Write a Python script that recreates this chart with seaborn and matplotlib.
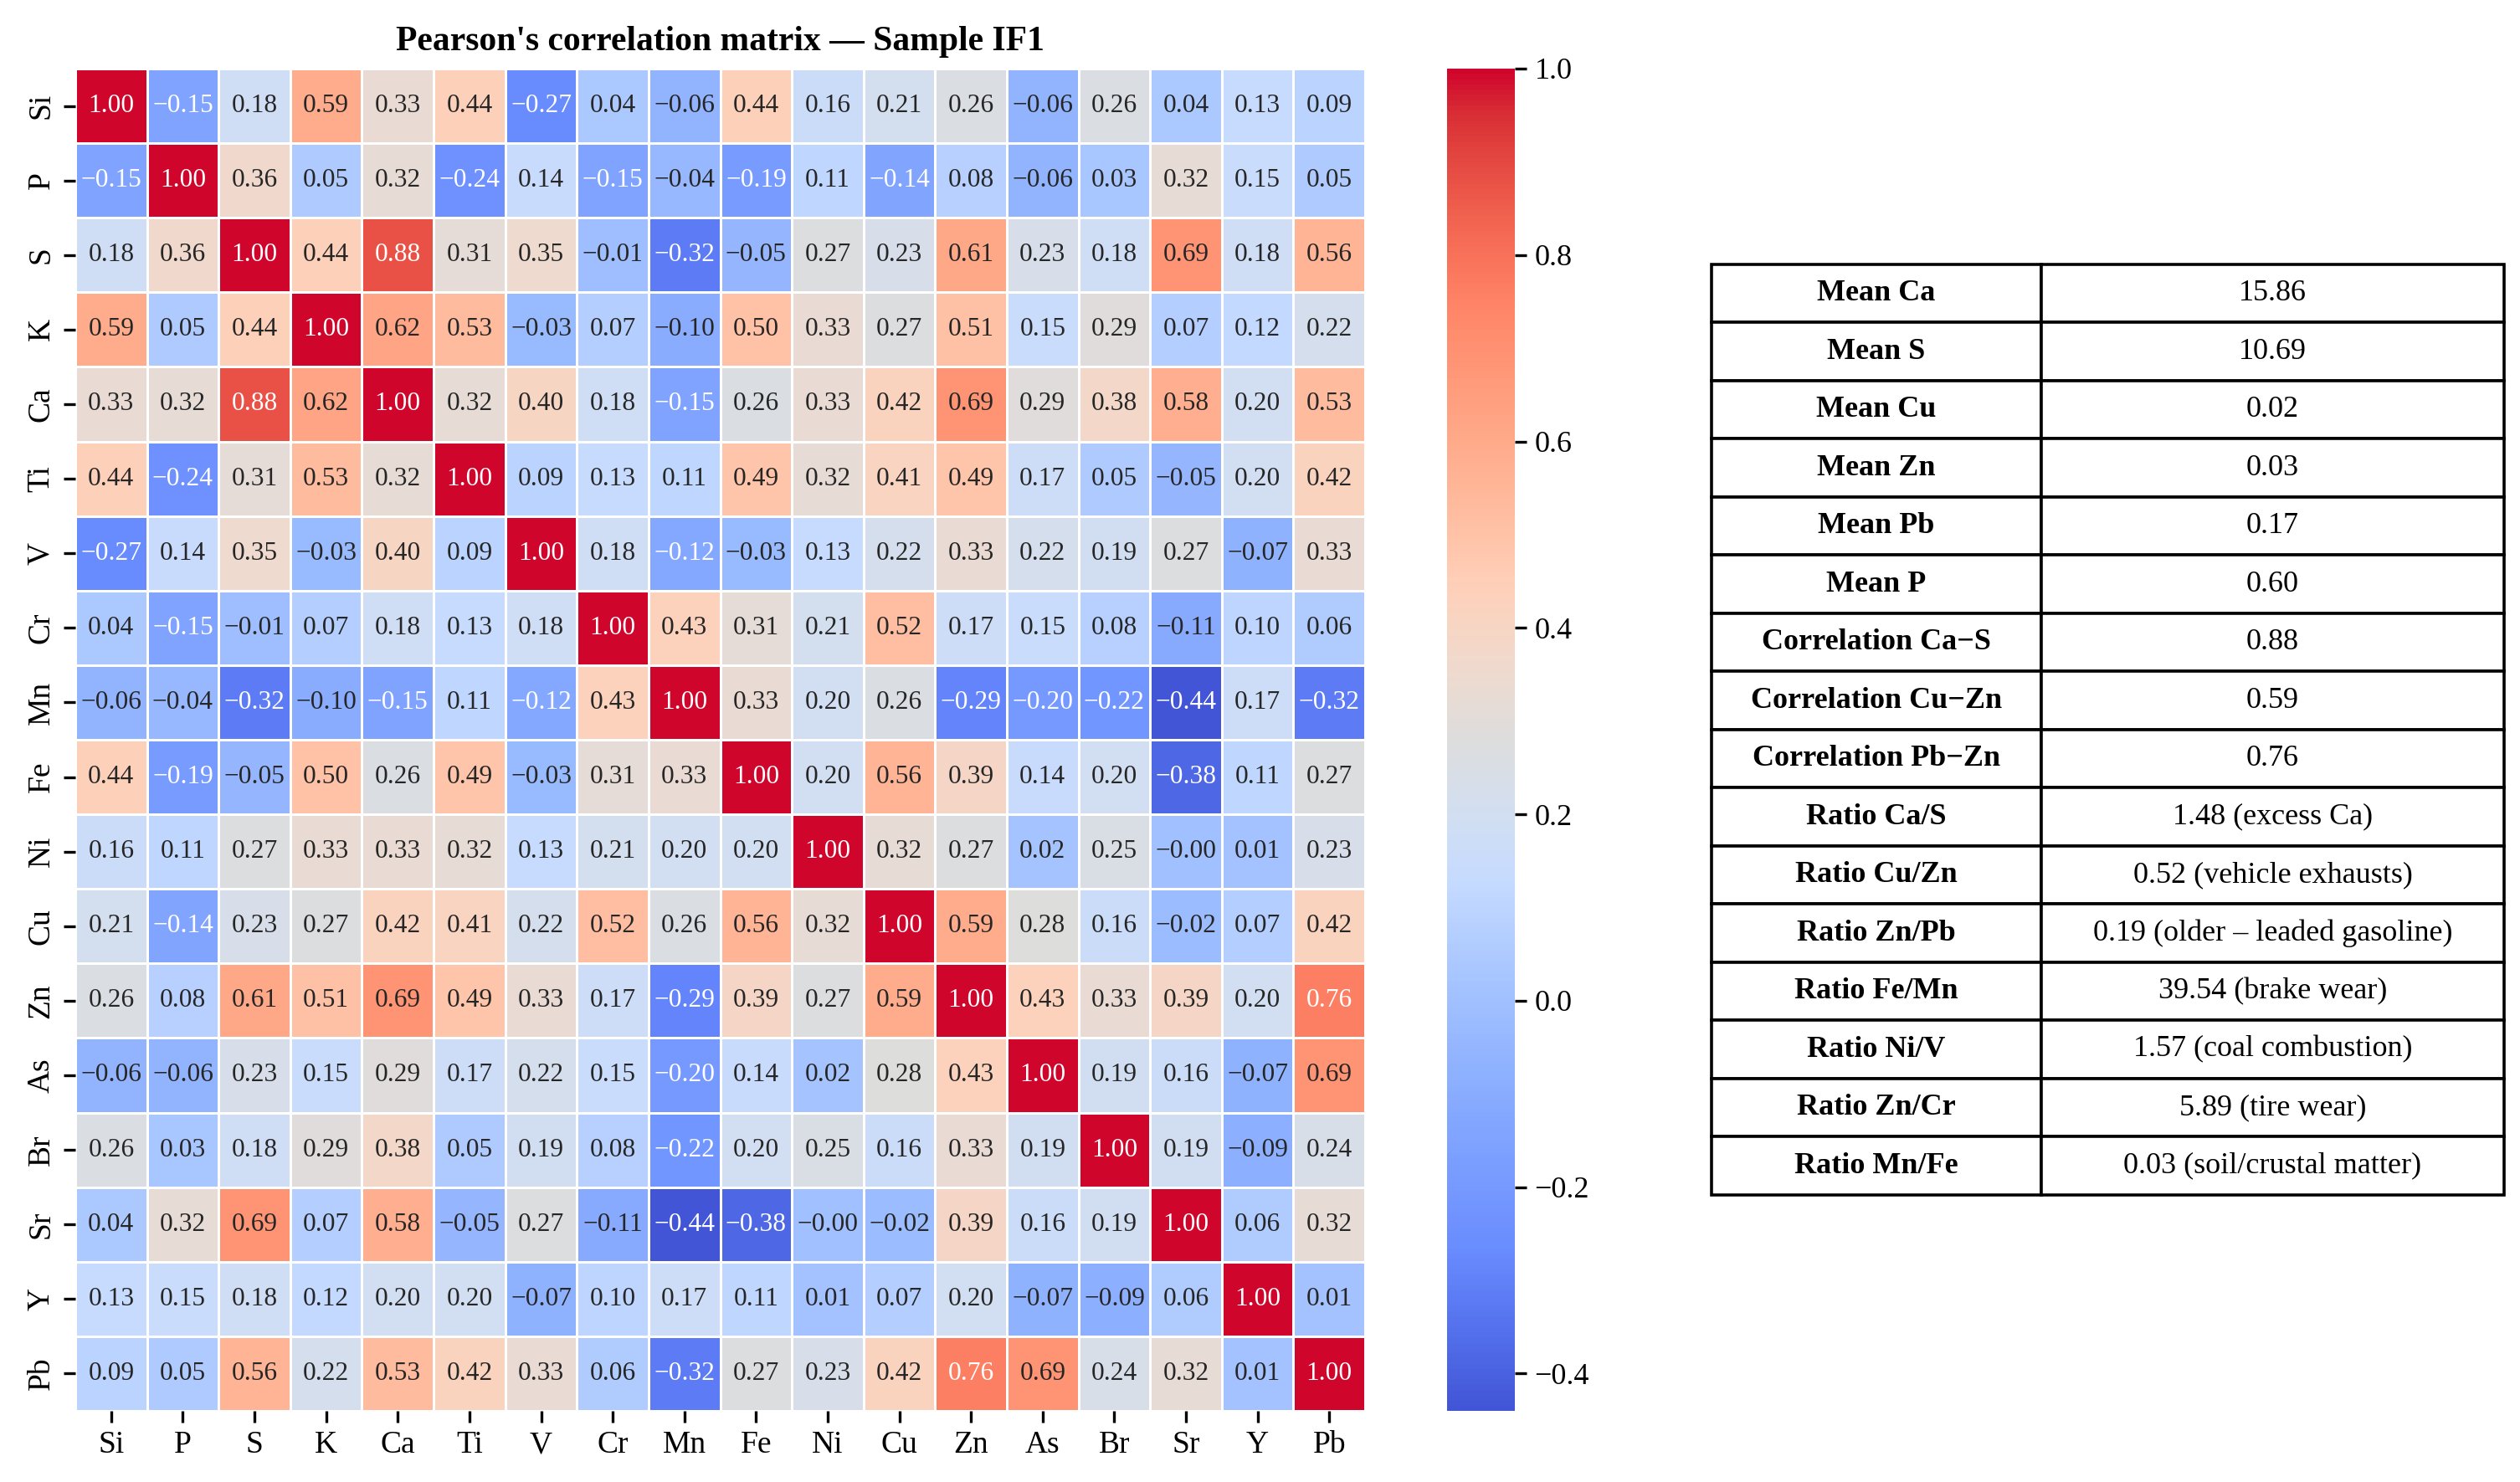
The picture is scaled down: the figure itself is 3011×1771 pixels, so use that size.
import numpy as np
import pandas as pd
import seaborn as sns
import matplotlib.pyplot as plt
from matplotlib.colors import ListedColormap, rgb_to_hsv, hsv_to_rgb

plt.rcParams["font.family"] = ["Liberation Serif", "DejaVu Serif"]

# %% data
elements = ["Si", "P", "S", "K", "Ca", "Ti", "V", "Cr", "Mn",
            "Fe", "Ni", "Cu", "Zn", "As", "Br", "Sr", "Y", "Pb"]

corr_values = [
    [1.00, -0.15, 0.18, 0.59, 0.33, 0.44, -0.27, 0.04, -0.06, 0.44, 0.16, 0.21, 0.26, -0.06, 0.26, 0.04, 0.13, 0.09],
    [-0.15, 1.00, 0.36, 0.05, 0.32, -0.24, 0.14, -0.15, -0.04, -0.19, 0.11, -0.14, 0.08, -0.06, 0.03, 0.32, 0.15, 0.05],
    [0.18, 0.36, 1.00, 0.44, 0.88, 0.31, 0.35, -0.01, -0.32, -0.05, 0.27, 0.23, 0.61, 0.23, 0.18, 0.69, 0.18, 0.56],
    [0.59, 0.05, 0.44, 1.00, 0.62, 0.53, -0.03, 0.07, -0.10, 0.50, 0.33, 0.27, 0.51, 0.15, 0.29, 0.07, 0.12, 0.22],
    [0.33, 0.32, 0.88, 0.62, 1.00, 0.32, 0.40, 0.18, -0.15, 0.26, 0.33, 0.42, 0.69, 0.29, 0.38, 0.58, 0.20, 0.53],
    [0.44, -0.24, 0.31, 0.53, 0.32, 1.00, 0.09, 0.13, 0.11, 0.49, 0.32, 0.41, 0.49, 0.17, 0.05, -0.05, 0.20, 0.42],
    [-0.27, 0.14, 0.35, -0.03, 0.40, 0.09, 1.00, 0.18, -0.12, -0.03, 0.13, 0.22, 0.33, 0.22, 0.19, 0.27, -0.07, 0.33],
    [0.04, -0.15, -0.01, 0.07, 0.18, 0.13, 0.18, 1.00, 0.43, 0.31, 0.21, 0.52, 0.17, 0.15, 0.08, -0.11, 0.10, 0.06],
    [-0.06, -0.04, -0.32, -0.10, -0.15, 0.11, -0.12, 0.43, 1.00, 0.33, 0.20, 0.26, -0.29, -0.20, -0.22, -0.44, 0.17, -0.32],
    [0.44, -0.19, -0.05, 0.50, 0.26, 0.49, -0.03, 0.31, 0.33, 1.00, 0.20, 0.56, 0.39, 0.14, 0.20, -0.38, 0.11, 0.27],
    [0.16, 0.11, 0.27, 0.33, 0.33, 0.32, 0.13, 0.21, 0.20, 0.20, 1.00, 0.32, 0.27, 0.02, 0.25, -0.001, 0.01, 0.23],
    [0.21, -0.14, 0.23, 0.27, 0.42, 0.41, 0.22, 0.52, 0.26, 0.56, 0.32, 1.00, 0.59, 0.28, 0.16, -0.02, 0.07, 0.42],
    [0.26, 0.08, 0.61, 0.51, 0.69, 0.49, 0.33, 0.17, -0.29, 0.39, 0.27, 0.59, 1.00, 0.43, 0.33, 0.39, 0.20, 0.76],
    [-0.06, -0.06, 0.23, 0.15, 0.29, 0.17, 0.22, 0.15, -0.20, 0.14, 0.02, 0.28, 0.43, 1.00, 0.19, 0.16, -0.07, 0.69],
    [0.26, 0.03, 0.18, 0.29, 0.38, 0.05, 0.19, 0.08, -0.22, 0.20, 0.25, 0.16, 0.33, 0.19, 1.00, 0.19, -0.09, 0.24],
    [0.04, 0.32, 0.69, 0.07, 0.58, -0.05, 0.27, -0.11, -0.44, -0.38, -0.001, -0.02, 0.39, 0.16, 0.19, 1.00, 0.06, 0.32],
    [0.13, 0.15, 0.18, 0.12, 0.20, 0.20, -0.07, 0.10, 0.17, 0.11, 0.01, 0.07, 0.20, -0.07, -0.09, 0.06, 1.00, 0.01],
    [0.09, 0.05, 0.56, 0.22, 0.53, 0.42, 0.33, 0.06, -0.32, 0.27, 0.23, 0.42, 0.76, 0.69, 0.24, 0.32, 0.01, 1.00],
]

stat_labels = ["Mean Ca", "Mean S", "Mean Cu", "Mean Zn", "Mean Pb", "Mean P",
               "Correlation Ca\u2212S", "Correlation Cu\u2212Zn", "Correlation Pb\u2212Zn",
               "Ratio Ca/S", "Ratio Cu/Zn", "Ratio Zn/Pb", "Ratio Fe/Mn",
               "Ratio Ni/V", "Ratio Zn/Cr", "Ratio Mn/Fe"]
stat_values = ["15.86", "10.69", "0.02", "0.03", "0.17", "0.60",
               "0.88", "0.59", "0.76",
               "1.48 (excess Ca)", "0.52 (vehicle exhausts)",
               "0.19 (older \u2013 leaded gasoline)", "39.54 (brake wear)",
               "1.57 (coal combustion)", "5.89 (tire wear)",
               "0.03 (soil/crustal matter)"]

corr_df = pd.DataFrame(corr_values, index=elements, columns=elements)
annot = corr_df.map(lambda v: f"{v:.2f}".replace("-", "\u2212")).values

# coolwarm, a bit brighter on the saturated ends
base = sns.color_palette("coolwarm", 256)
hsv = rgb_to_hsv(np.array(base))
hsv[:, 2] = np.clip(hsv[:, 2] * (1 + 0.16 * hsv[:, 1]), 0, 1)
cmap = ListedColormap(hsv_to_rgb(hsv))

# %% figure
fig = plt.figure(figsize=(15.055, 8.855), dpi=200)
ax = fig.add_axes([0.0299, 0.048, 0.5118, 0.9057])
cax = fig.add_axes([0.5742, 0.048, 0.0269, 0.9057])
tax = fig.add_axes([0.6792, 0.1937, 0.3145, 0.6279])

sns.heatmap(
    corr_df,
    ax=ax,
    cbar_ax=cax,
    cmap=cmap,
    annot=annot,
    fmt="",
    annot_kws={"fontsize": 11.3},
    linewidths=1.0,
    linecolor="white",
)
ax.set_title("Pearson's correlation matrix \u2014 Sample IF1",
             fontsize=15, fontweight="bold", pad=8)
ax.set_xticklabels(elements, rotation=0, fontsize=13.5)
ax.set_yticklabels(elements, rotation=90, va="center", fontsize=13.5)
ax.tick_params(length=5, width=1.2)
cax.tick_params(labelsize=13, length=5, width=1.2)

# %% table
tax.axis("off")
tbl = tax.table(
    cellText=[[l, v] for l, v in zip(stat_labels, stat_values)],
    colWidths=[0.416, 0.584],
    cellLoc="center",
    bbox=[0, 0, 1, 1],
)
tbl.auto_set_font_size(False)
for (r, c), cell in tbl.get_celld().items():
    cell.set_edgecolor("black")
    cell.set_linewidth(1.3)
    cell.get_text().set_fontsize(13)
    if c == 0:
        cell.get_text().set_fontweight("bold")

fig.savefig("out.png", dpi=200)
